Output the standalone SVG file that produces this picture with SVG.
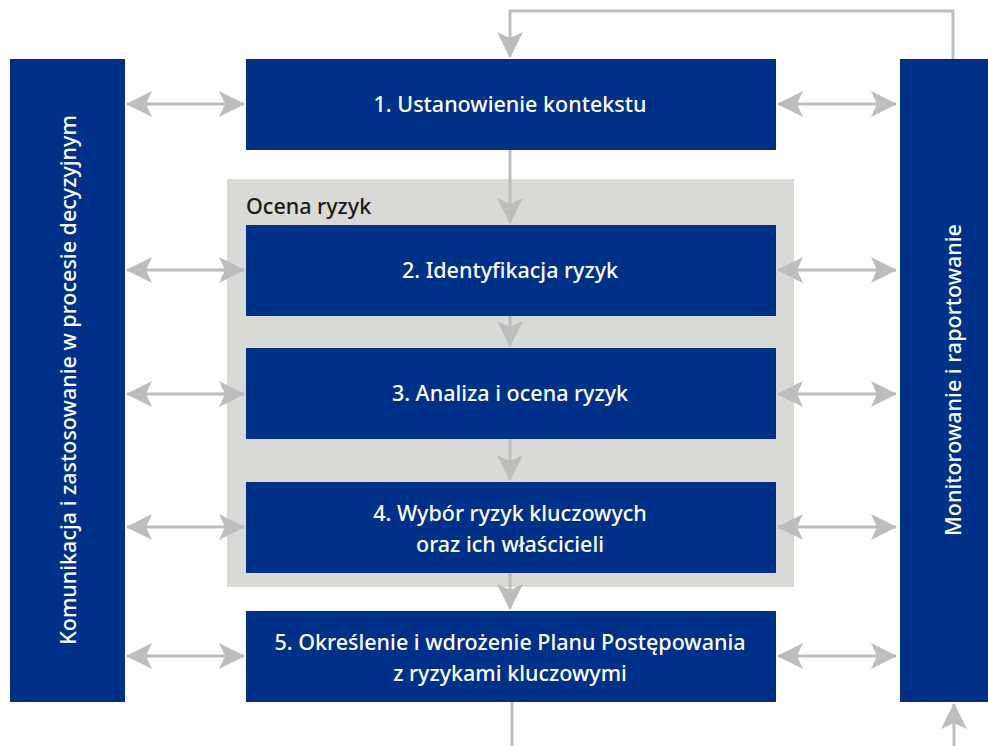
<svg xmlns="http://www.w3.org/2000/svg" width="988" height="746" viewBox="0 0 988 746">
<style>
.box{fill:#003188}
.panel{fill:#d9d9d6}
.lbl{fill:#ffffff;font-family:"Noto Sans","Open Sans",sans-serif;font-size:21.5px;font-weight:500;text-anchor:middle}
.ptl{fill:#1a1a1a;font-family:"Noto Sans","Open Sans",sans-serif;font-size:21.5px;font-weight:500}
.con{fill:none;stroke:#bdbdbd;stroke-width:3}
</style>
<defs>
<marker id="ah" viewBox="0 0 26 26" refX="25" refY="13" markerWidth="26" markerHeight="26" markerUnits="userSpaceOnUse" orient="auto-start-reverse">
<path d="M0,0 L26,13 L0,26 L6,13 Z" fill="#bdbdbd"/>
</marker>
</defs>
<rect width="988" height="746" fill="#ffffff"/>
<g id="panel-ocena"><rect class="panel" x="227" y="179" width="567" height="408"/><text class="ptl" x="246" y="214">Ocena ryzyk</text></g>
<g id="connectors">
<path class="con" d="M953,59 V11 H510 V57" marker-end="url(#ah)"/>
<path class="con" d="M510,150 V223" marker-end="url(#ah)"/>
<path class="con" d="M510,316 V346" marker-end="url(#ah)"/>
<path class="con" d="M510,439 V480" marker-end="url(#ah)"/>
<path class="con" d="M510,573 V609" marker-end="url(#ah)"/>
<path class="con" d="M512,702 V746"/>
<path class="con" d="M954,746 V704" marker-end="url(#ah)"/>
<path class="con" d="M127,104 H244" marker-start="url(#ah)" marker-end="url(#ah)"/>
<path class="con" d="M778,104 H896" marker-start="url(#ah)" marker-end="url(#ah)"/>
<path class="con" d="M127,270 H244" marker-start="url(#ah)" marker-end="url(#ah)"/>
<path class="con" d="M778,270 H896" marker-start="url(#ah)" marker-end="url(#ah)"/>
<path class="con" d="M127,394 H244" marker-start="url(#ah)" marker-end="url(#ah)"/>
<path class="con" d="M778,394 H896" marker-start="url(#ah)" marker-end="url(#ah)"/>
<path class="con" d="M127,527 H244" marker-start="url(#ah)" marker-end="url(#ah)"/>
<path class="con" d="M778,527 H896" marker-start="url(#ah)" marker-end="url(#ah)"/>
<path class="con" d="M127,656 H244" marker-start="url(#ah)" marker-end="url(#ah)"/>
<path class="con" d="M778,656 H896" marker-start="url(#ah)" marker-end="url(#ah)"/>
</g>
<g id="komunikacja"><rect class="box" x="10" y="59" width="115" height="643"/><text class="lbl" transform="translate(68,380) rotate(-90)" dy="7.5">Komunikacja i zastosowanie w procesie decyzyjnym</text></g>
<g id="monitorowanie"><rect class="box" x="900" y="59" width="88" height="643"/><text class="lbl" transform="translate(953,380) rotate(-90)" dy="7.5">Monitorowanie i raportowanie</text></g>
<g id="box1"><rect class="box" x="246" y="59" width="530" height="91"/><text class="lbl" x="510" y="112">1. Ustanowienie kontekstu</text></g>
<g id="box2"><rect class="box" x="246" y="225" width="530" height="91"/><text class="lbl" x="510" y="278">2. Identyfikacja ryzyk</text></g>
<g id="box3"><rect class="box" x="246" y="348" width="530" height="91"/><text class="lbl" x="510" y="401">3. Analiza i ocena ryzyk</text></g>
<g id="box4"><rect class="box" x="246" y="482" width="530" height="91"/><text class="lbl" x="510" y="521">4. Wybór ryzyk kluczowych</text><text class="lbl" x="510" y="552">oraz ich właścicieli</text></g>
<g id="box5"><rect class="box" x="246" y="611" width="530" height="91"/><text class="lbl" x="510" y="650">5. Określenie i wdrożenie Planu Postępowania</text><text class="lbl" x="510" y="681">z ryzykami kluczowymi</text></g>
</svg>
